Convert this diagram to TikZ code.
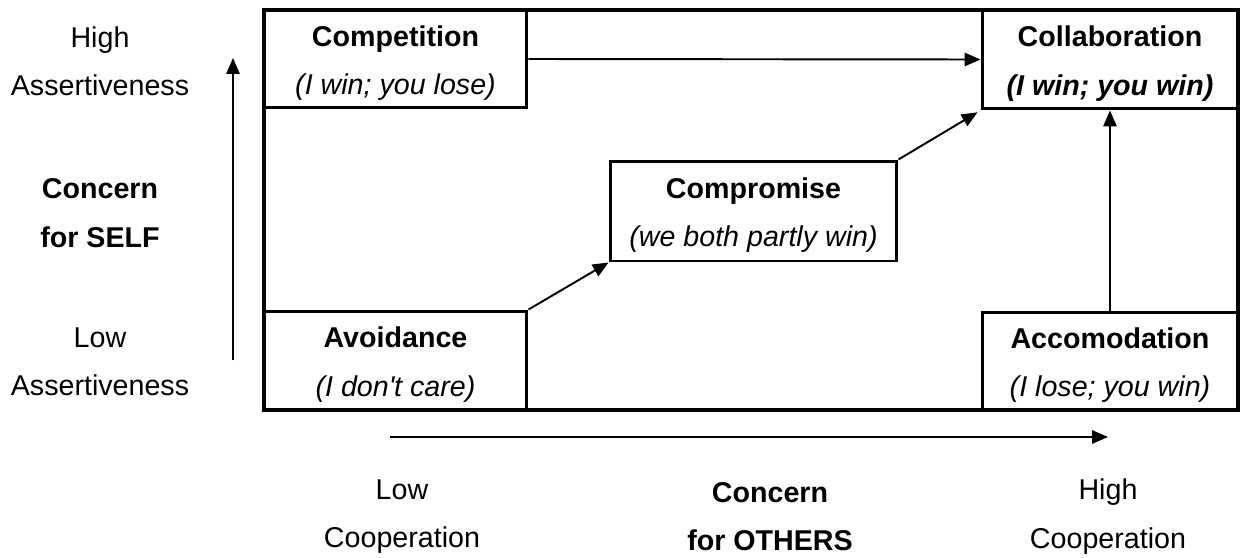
\documentclass[tikz,border=0pt]{standalone}
\usepackage{fontspec}
\setmainfont{Liberation Sans}
\usetikzlibrary{arrows.meta}

\begin{document}
\begin{tikzpicture}[x=0.02cm, y=-0.02cm,
        box/.style={draw, line width=1.7pt, inner sep=0pt},
        lbl/.style={align=center, inner sep=0pt, font=\fontsize{16.3}{27.5}\selectfont},
        arr/.style={line width=1.1pt, -{Triangle[length=9pt,width=7.5pt]}}]
        \useasboundingbox (0,0) rectangle (1242,558);
        \draw[line width=2.8pt] (264,10) rectangle (1238,410);
        % the five styles
        \node[box, minimum width=5.26cm, minimum height=1.96cm] (compet) at (395.5,59){};
        \node[box, minimum width=5.12cm, minimum height=1.98cm] (collab) at (1110,59.5){};
        \node[box, minimum width=5.74cm, minimum height=2.0cm] (compro) at (753.5,211){};
        \node[box, minimum width=5.26cm, minimum height=1.98cm] (avoid) at (395.5,360.5){};
        \node[box, minimum width=5.12cm, minimum height=1.96cm] (accom) at (1110,361){};
        \node[lbl] (compet-t) at ([yshift=-2.3pt]compet.center){\textbf{Competition}\\\textit{(I win; you lose)}};
        \node[lbl] (collab-t) at ([yshift=-2.3pt]collab.center){\textbf{Collaboration}\\\textbf{\textit{(I win; you win)}}};
        \node[lbl] (compro-t) at ([yshift=-2.3pt]compro.center){\textbf{Compromise}\\\textit{(we both partly win)}};
        \node[lbl] (avoid-t) at ([yshift=-2.3pt]avoid.center){\textbf{Avoidance}\\\textit{(I don\textquotesingle t care)}};
        \node[lbl] (accom-t) at ([yshift=-2.3pt]accom.center){\textbf{Accomodation}\\\textit{(I lose; you win)}};
        % axis labels
        \node[lbl] (hiself) at (100,61){High\\Assertiveness};
        \node[lbl] (self) at (100,213){\textbf{Concern}\\\textbf{for SELF}};
        \node[lbl] (loself) at (100,361.5){Low\\Assertiveness};
        \node[lbl] (looth) at (402,516.5){Low\\Cooperation};
        \node[lbl] (others) at (770,516.5){\textbf{Concern}\\\textbf{for OTHERS}};
        \node[lbl] (hioth) at (1108,516.5){High\\Cooperation};
        \coordinate (ylow) at (233,360);
        \coordinate (yhigh) at (233,58);
        \coordinate (xlow) at (390,437);
        \coordinate (xhigh) at (1108,437);
        \draw[arr] (ylow) -- (yhigh);
        \draw[arr] (xlow) -- (xhigh);
        % moves between styles
        \draw[arr] (compet.east) -- (collab.west);
        \draw[arr] (avoid.north east) -- (compro.south west);
        \draw[arr, shorten >=2pt] (compro.north east) -- (collab.south west);
        \draw[arr] (accom.north) -- (collab.south);
    \end{tikzpicture}
\end{document}
